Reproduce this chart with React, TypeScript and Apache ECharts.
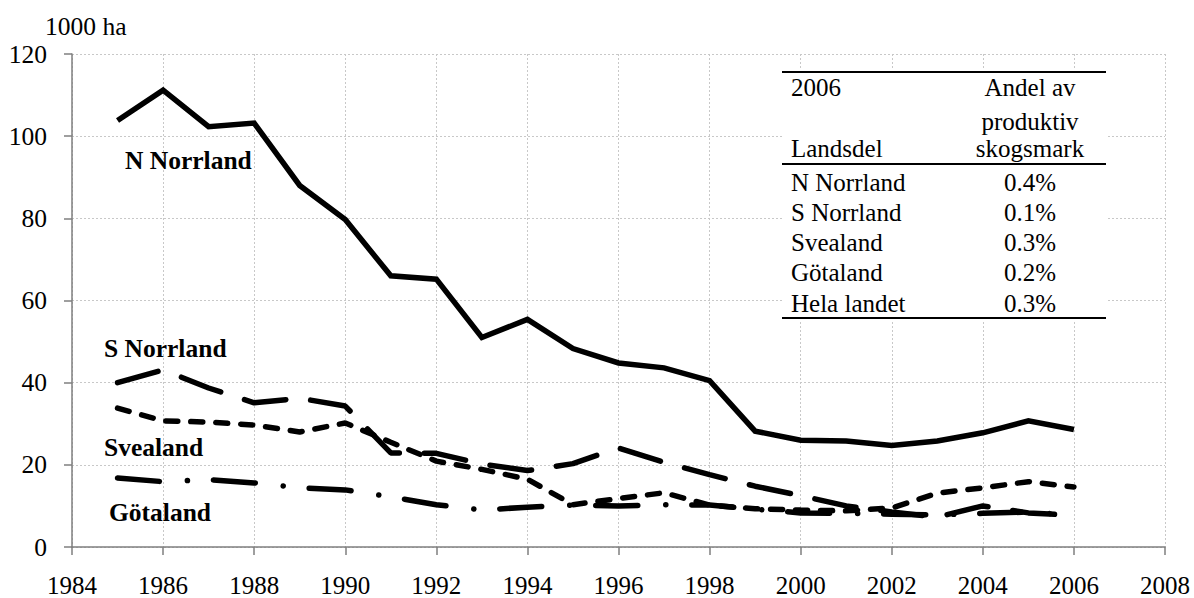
import React, { useEffect, useRef } from "react";
import * as echarts from "echarts";

const years = [1985,1986,1987,1988,1989,1990,1991,1992,1993,1994,1995,1996,1997,1998,1999,2000,2001,2002,2003,2004,2005,2006];
const nNorrland = [103.8,111.2,102.3,103.2,88.0,79.7,66.0,65.2,51.0,55.4,48.3,44.8,43.6,40.5,28.2,26.0,25.8,24.7,25.8,27.8,30.7,28.6];
const sNorrland = [40.0,43.1,38.7,35.1,36.2,34.3,22.9,22.8,20.2,18.6,20.3,24.1,20.6,17.6,14.8,12.5,10.0,8.5,7.3,10.0,8.3,7.7];
const svealand = [33.8,30.7,30.4,29.7,28.0,30.2,25.5,20.9,18.9,16.5,10.3,11.8,13.2,10.2,9.3,9.0,8.8,9.5,13.1,14.4,15.9,14.6];
const gotaland = [16.8,15.9,16.4,15.6,14.4,13.9,12.2,10.3,9.0,9.7,10.2,10.0,10.3,10.2,9.2,8.3,8.2,8.0,7.8,8.2,8.5,7.7];

const seriesNames = ["N Norrland", "S Norrland", "Svealand", "Götaland"];
const tableRegions = ["N Norrland", "S Norrland", "Svealand", "Götaland", "Hela landet"];
const tableShares = ["0.4%", "0.1%", "0.3%", "0.2%", "0.3%"];

const FONT = "Liberation Serif";

export default function App() {
  const ref = useRef<HTMLDivElement>(null);
  useEffect(() => {
    document.body.style.margin = "0";
    const chart = echarts.init(ref.current!, null, { renderer: "svg" });
    const mk = (vals: number[]) => years.map((y, i) => [y, vals[i]]);
    const lineBase = { type: "line", showSymbol: false, symbol: "none", silent: true };
    const tableX = 782, tableR = 1106;
    const rowY = [182, 212, 242, 272, 303];
    const txt = (x: number, y: number, text: string, align = "left", extra: any = {}) => ({
      type: "text", x, y, z: 101,
      style: { text, fontFamily: FONT, fontSize: 25, fill: "#000", align, verticalAlign: "middle", ...extra },
    });
    const tableGraphics: any[] = [
      { type: "rect", shape: { x: tableX, y: 70, width: tableR - tableX, height: 250 }, style: { fill: "#fff" }, z: 100 },
      { type: "line", shape: { x1: tableX, y1: 72, x2: tableR, y2: 72 }, style: { stroke: "#000", lineWidth: 2 }, z: 101 },
      { type: "line", shape: { x1: tableX, y1: 164, x2: tableR, y2: 164 }, style: { stroke: "#000", lineWidth: 2 }, z: 101 },
      { type: "line", shape: { x1: tableX, y1: 318, x2: tableR, y2: 318 }, style: { stroke: "#000", lineWidth: 2 }, z: 101 },
      txt(791, 87, "2006"),
      txt(791, 148, "Landsdel"),
      txt(1030, 87, "Andel av", "center"),
      txt(1030, 121, "produktiv", "center"),
      txt(1030, 148, "skogsmark", "center"),
    ];
    tableRegions.forEach((r, i) => {
      tableGraphics.push(txt(791, rowY[i], r));
      tableGraphics.push(txt(1030, rowY[i], tableShares[i], "center"));
    });
    const labelPos = [[125, 160], [104, 348], [104, 447], [109, 512]];
    const labelGraphics = seriesNames.map((n, i) => ({
      type: "text", x: labelPos[i][0], y: labelPos[i][1], z: 50,
      style: { text: n, fontFamily: FONT, fontSize: 25.5, fontWeight: "bold", fill: "#000", verticalAlign: "middle" },
    }));
    chart.setOption({
      animation: false,
      backgroundColor: "#fff",
      textStyle: { fontFamily: FONT },
      grid: { left: 72, right: 29, top: 54, bottom: 51, containLabel: false },
      xAxis: {
        type: "value", min: 1984, max: 2008, interval: 2,
        axisLine: { show: true, onZero: false, lineStyle: { color: "#7f7f7f", width: 1.5 } },
        axisTick: { show: true, length: 8, inside: false, lineStyle: { color: "#7f7f7f", width: 1.5 } },
        axisLabel: { color: "#000", fontFamily: FONT, fontSize: 25, margin: 26, formatter: (v: number) => String(v) },
        splitLine: { show: true, lineStyle: { color: "#c8c8c8", width: 1, type: [2, 2] } },
      },
      yAxis: {
        type: "value", min: 0, max: 120, interval: 20,
        axisLine: { show: true, lineStyle: { color: "#7f7f7f", width: 1.5 } },
        axisTick: { show: true, length: 8, lineStyle: { color: "#7f7f7f", width: 1.5 } },
        axisLabel: { color: "#000", fontFamily: FONT, fontSize: 25.5, margin: 25, formatter: (v: number) => String(v) },
        splitLine: { show: true, lineStyle: { color: "#c8c8c8", width: 1, type: [2, 2] } },
      },
      series: [
        { ...lineBase, name: seriesNames[0], data: mk(nNorrland), lineStyle: { color: "#000", width: 5.5, type: "solid", join: "miter" } },
        { ...lineBase, name: seriesNames[1], data: mk(sNorrland), lineStyle: { color: "#000", width: 5.5, type: [42, 25], cap: "round" } },
        { ...lineBase, name: seriesNames[2], data: mk(svealand), lineStyle: { color: "#000", width: 5.5, type: [12, 13], cap: "round" } },
        { ...lineBase, name: seriesNames[3], data: mk(gotaland), lineStyle: { color: "#000", width: 5.5, type: [42, 28, 0.1, 26], cap: "round" } },
      ],
      graphic: [
        { type: "text", x: 45, y: 26, style: { text: "1000 ha", fontFamily: FONT, fontSize: 25.5, fill: "#000", verticalAlign: "middle" } },
        ...labelGraphics,
        ...tableGraphics,
      ],
    });
    return () => chart.dispose();
  }, []);
  return <div ref={ref} style={{ width: 1194, height: 598 }} />;
}
